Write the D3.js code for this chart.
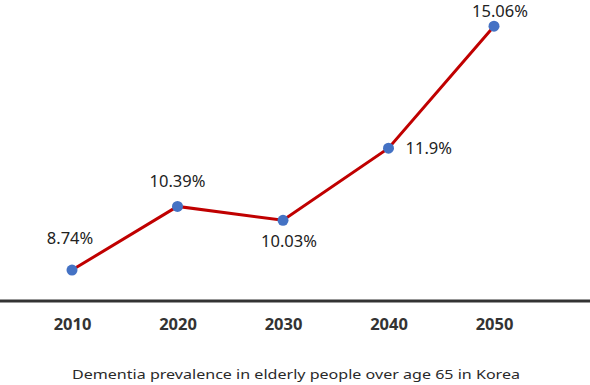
<!DOCTYPE html>
<html>
<head>
<meta charset="utf-8">
<script src="https://cdn.jsdelivr.net/npm/d3@7"></script>
<style>
  body { margin: 0; background: #fff; }
  svg { display: block; }
  .year { font-family: "Noto Sans", sans-serif; font-weight: bold; font-size: 16.5px; fill: #333; }
  .val { font-family: "Noto Sans", sans-serif; font-size: 16.5px; fill: #222; }
  .caption { font-family: "Noto Sans", sans-serif; font-size: 13px; fill: #2a2a2a; }
</style>
</head>
<body>
<svg id="chart" width="590" height="385"></svg>
<script>
const years = ["2010", "2020", "2030", "2040", "2050"];
const prevalence = [8.74, 10.39, 10.03, 11.9, 15.06];
const labels = ["8.74%", "10.39%", "10.03%", "11.9%", "15.06%"];

const data = years.map((y, i) => ({year: y, value: prevalence[i], label: labels[i]}));

// label offsets relative to each point
const labelPos = [
    {dx: -2, dy: -30, anchor: "middle"},
    {dx: 0, dy: -24, anchor: "middle"},
    {dx: 6, dy: 22, anchor: "middle"},
    {dx: 17, dy: 1, anchor: "start"},
    {dx: 6, dy: -14, anchor: "middle"}
];

const svg = d3.select("#chart");

const x = d3.scalePoint()
    .domain(years)
    .range([72, 494]);

const y = d3.scaleLinear()
    .domain([8, 15.74])
    .range([298.6, 0]);

// baseline
svg.append("line")
    .attr("x1", 0)
    .attr("x2", 590)
    .attr("y1", 301)
    .attr("y2", 301)
    .attr("stroke", "#333")
    .attr("stroke-width", 3);

const xAxis = svg.append("g")
    .attr("transform", "translate(0,302)")
    .call(d3.axisBottom(x).tickSize(0).tickPadding(16));

xAxis.select(".domain").remove();
xAxis.selectAll("text")
    .attr("class", "year")
    .attr("fill", null)
    .attr("font-family", null)
    .attr("font-size", null);

const line = d3.line()
    .x(d => x(d.year))
    .y(d => y(d.value));

svg.append("path")
    .datum(data)
    .attr("fill", "none")
    .attr("stroke", "#c00000")
    .attr("stroke-width", 3)
    .attr("d", line);

svg.selectAll(".dot")
    .data(data)
    .enter()
    .append("circle")
    .attr("class", "dot")
    .attr("cx", d => x(d.year))
    .attr("cy", d => y(d.value))
    .attr("r", 5.5)
    .attr("fill", "#4472c4");

svg.selectAll(".val")
    .data(data)
    .enter()
    .append("text")
    .attr("class", "val")
    .attr("x", (d, i) => x(d.year) + labelPos[i].dx)
    .attr("y", (d, i) => y(d.value) + labelPos[i].dy)
    .attr("text-anchor", (d, i) => labelPos[i].anchor)
    .attr("dominant-baseline", "middle")
    .text(d => d.label);

svg.append("text")
    .attr("class", "caption")
    .attr("x", 296)
    .attr("y", 376)
    .attr("text-anchor", "middle")
    .attr("dominant-baseline", "middle")
    .attr("textLength", 448)
    .attr("lengthAdjust", "spacingAndGlyphs")
    .text("Dementia prevalence in elderly people over age 65 in Korea");
</script>
</body>
</html>
